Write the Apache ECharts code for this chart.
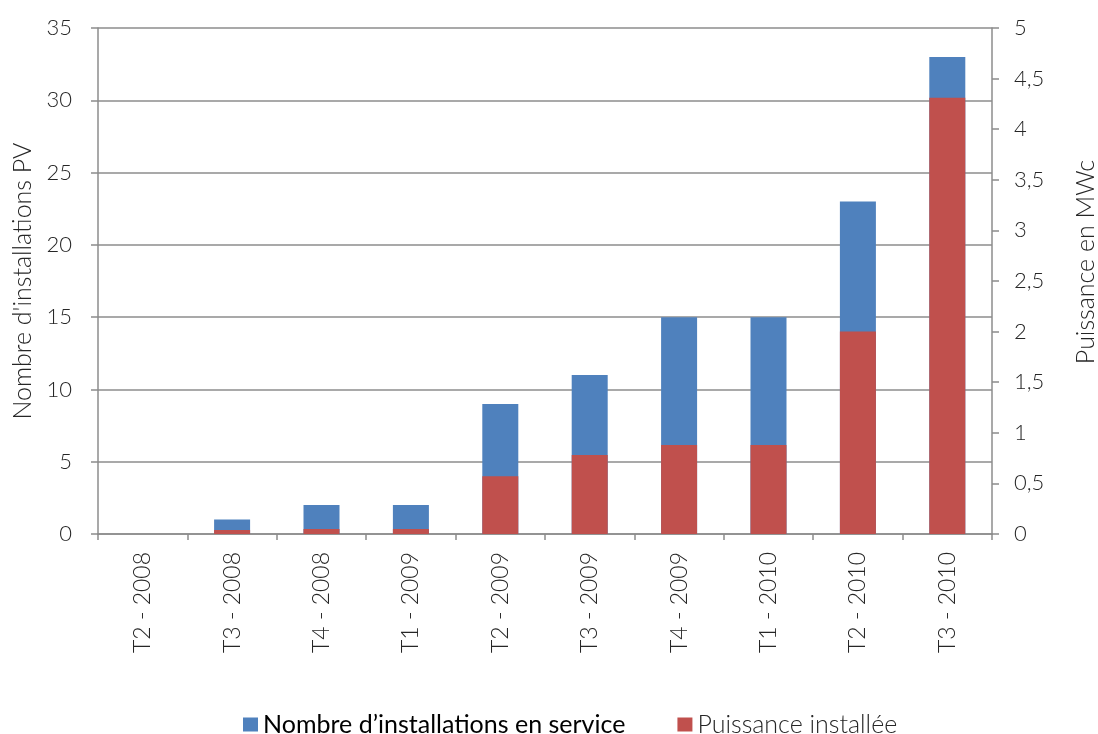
<!DOCTYPE html>
<html lang="fr">

<head>
    <meta charset="UTF-8">
    <title>Installations PV</title>
    <style>
        * {
            padding: 0;
            margin: 0;
        }
    </style>
</head>

<body>
    <div id="chart" style="width: 1098px; height: 734px;"></div>
    <script src="https://cdn.jsdelivr.net/npm/echarts@6/dist/echarts.min.js"></script>
    <script>
        let mychart = echarts.init(document.getElementById('chart'))

        const categories = ['T2 - 2008', 'T3 - 2008', 'T4 - 2008', 'T1 - 2009', 'T2 - 2009',
            'T3 - 2009', 'T4 - 2009', 'T1 - 2010', 'T2 - 2010', 'T3 - 2010']
        const installations = [0, 1, 2, 2, 9, 11, 15, 15, 23, 33]
        const puissance = [0, 0.04, 0.05, 0.05, 0.57, 0.78, 0.88, 0.88, 2.0, 4.31]

        const nameA = 'Nombre d’installations en service'
        const nameB = 'Puissance installée'
        const font = 'Lato'
        const gray = '#8c8c8c'
        const txt = '#262626'

        let options = {
            animation: false,
            grid: {
                left: 98,
                right: 106,
                top: 28,
                bottom: 200,
                outerBoundsMode: 'none'
            },
            legend: {
                data: [nameA, nameB],
                top: 707,
                left: 238,
                itemWidth: 15,
                itemHeight: 14,
                itemGap: 52,
                icon: 'rect',
                formatter: function(name) {
                    return name === nameA ? '{a|' + name + '}' : '{b|' + name + '}'
                },
                textStyle: {
                    rich: {
                        a: { fontFamily: font, fontWeight: 400, fontSize: 25, color: '#000' },
                        b: { fontFamily: font, fontWeight: 300, fontSize: 25, color: txt }
                    }
                }
            },
            xAxis: {
                type: 'category',
                data: categories,
                axisLine: { lineStyle: { color: gray, width: 1.5 } },
                axisTick: { show: true, length: 6, lineStyle: { color: gray, width: 1.5 } },
                axisLabel: {
                    rotate: 90,
                    interval: 0,
                    margin: 18,
                    fontFamily: font,
                    fontWeight: 300,
                    fontSize: 23,
                    color: txt
                }
            },
            yAxis: [{
                type: 'value',
                min: 0,
                max: 35,
                interval: 5,
                name: 'Nombre d\'installations PV',
                nameLocation: 'middle',
                nameRotate: 90,
                nameGap: 63,
                nameTextStyle: { fontFamily: font, fontWeight: 300, fontSize: 25, color: txt },
                axisLine: { show: true, lineStyle: { color: gray, width: 1.5 } },
                axisTick: { show: true, length: 7, lineStyle: { color: gray, width: 1.5 } },
                axisLabel: { margin: 26, fontFamily: font, fontWeight: 300, fontSize: 22, color: txt },
                splitLine: { show: true, lineStyle: { color: gray, width: 1.5 } }
            }, {
                type: 'value',
                min: 0,
                max: 5,
                interval: 0.5,
                name: 'Puissance en MWc',
                nameLocation: 'middle',
                nameRotate: 90,
                nameGap: 81,
                nameTextStyle: { fontFamily: font, fontWeight: 300, fontSize: 25, color: txt, padding: [0, 0, 0, 38] },
                axisLine: { show: true, lineStyle: { color: gray, width: 1.5 } },
                axisTick: { show: true, length: 7, lineStyle: { color: gray, width: 1.5 } },
                axisLabel: {
                    margin: 22,
                    fontFamily: font,
                    fontWeight: 300,
                    fontSize: 22,
                    color: txt,
                    formatter: function(v) {
                        return String(v).replace('.', ',')
                    }
                },
                splitLine: { show: false }
            }],
            series: [{
                name: nameA,
                type: 'bar',
                yAxisIndex: 0,
                barWidth: 36,
                itemStyle: { color: '#4f81bd' },
                data: installations
            }, {
                name: nameB,
                type: 'bar',
                yAxisIndex: 1,
                barWidth: 36,
                barGap: '-100%',
                itemStyle: { color: '#c0504d' },
                data: puissance
            }]
        }

        mychart.setOption(options);
    </script>
</body>

</html>
